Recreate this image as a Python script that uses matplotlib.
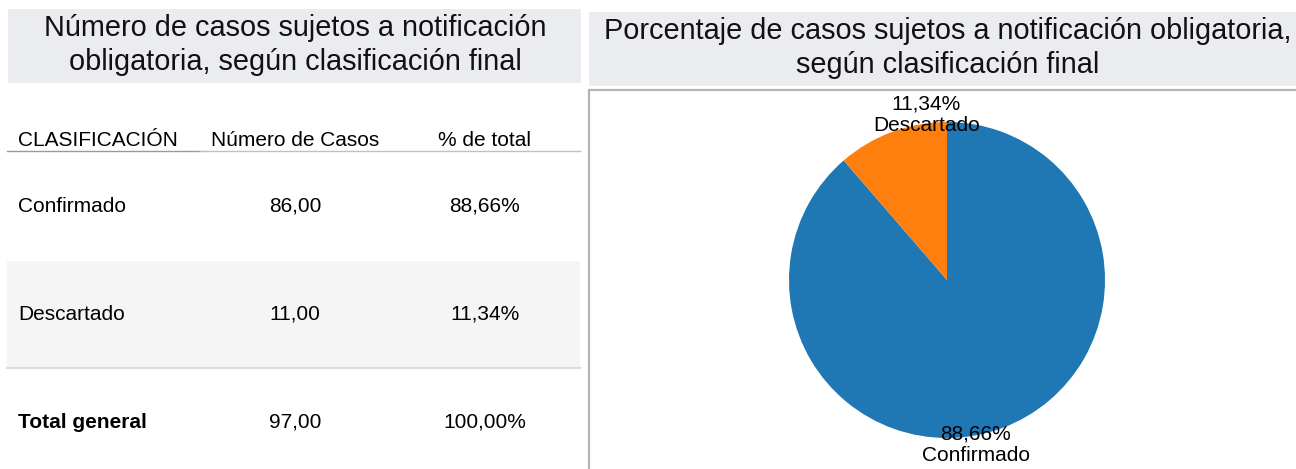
import matplotlib
matplotlib.use("Agg")
import matplotlib.pyplot as plt
from matplotlib.patches import Rectangle
import numpy as np

plt.rcParams['font.family'] = ['Liberation Sans', 'DejaVu Sans']

# data
categories = ["Confirmado", "Descartado"]
casos = [86, 11]
total_label = "Total general"
colors = ["#1f77b4", "#ff7f0e"]
headers = ["CLASIFICACIÓN", "Número de Casos", "% de total"]
title_left = "Número de casos sujetos a notificación\nobligatoria, según clasificación final"
title_right = "Porcentaje de casos sujetos a notificación obligatoria,\nsegún clasificación final"


def fmt(v, pct=False):
    s = f"{v:.2f}".replace(".", ",")
    return s + "%" if pct else s


total = sum(casos)
pcts = [100 * c / total for c in casos]

fig = plt.figure(figsize=(12.96, 4.69), dpi=100)

# pixel-coordinate layer for boxes and table
bg = fig.add_axes([0, 0, 1, 1])
bg.set_xlim(0, 1296)
bg.set_ylim(469, 0)
bg.axis("off")

title_bg = "#ebecf0"
bg.add_patch(Rectangle((8, 9), 573, 74, color=title_bg, lw=0))
bg.add_patch(Rectangle((589, 12), 707, 74, color=title_bg, lw=0))
bg.text(295, 45, title_left, ha="center", va="center", fontsize=20.8,
        linespacing=1.24, color="#111111")
bg.text(948, 48, title_right, ha="center", va="center", fontsize=20.8,
        linespacing=1.26, color="#111111")

# right panel frame
bg.plot([588.5, 588.5, 1296], [469, 90.5, 90.5], color="#b4b4b4", lw=1.6)

# table
fs = 15
col_x = [18, 295, 485]
bg.text(col_x[0], 140, headers[0], ha="left", va="center", fontsize=fs)
bg.text(col_x[1], 140, headers[1], ha="center", va="center", fontsize=fs)
bg.text(col_x[2], 140, headers[2], ha="center", va="center", fontsize=fs)
bg.plot([7, 200], [151.5, 151.5], color="#999999", lw=1.0)
bg.plot([200, 580], [151.5, 151.5], color="#c0c0c0", lw=1.0)

row_y = [206, 314]
bg.add_patch(Rectangle((7, 261), 573, 107, color="#f5f5f5", lw=0))
for cat, c, p, y in zip(categories, casos, pcts, row_y):
    bg.text(col_x[0], y, cat, ha="left", va="center", fontsize=fs)
    bg.text(col_x[1], y, fmt(c), ha="center", va="center", fontsize=fs)
    bg.text(col_x[2], y, fmt(p, True), ha="center", va="center", fontsize=fs)
bg.plot([7, 580], [368.5, 368.5], color="#dcdcdc", lw=1.5)

bg.text(col_x[0], 422, total_label, ha="left", va="center", fontsize=fs,
        fontweight="bold")
bg.text(col_x[1], 422, fmt(total), ha="center", va="center", fontsize=fs)
bg.text(col_x[2], 422, fmt(sum(pcts), True), ha="center", va="center",
        fontsize=fs)

# pie
cx, cy, R = 947, 280, 158
half = 1.1 * R
ax = fig.add_axes([(cx - half) / 1296, (469 - cy - half) / 469,
                   2 * half / 1296, 2 * half / 469])
wedges, _ = ax.pie(casos, colors=colors, startangle=90, counterclock=False,
                   wedgeprops=dict(linewidth=0))
ax.set_xlim(-1.1, 1.1)
ax.set_ylim(-1.1, 1.1)
ax.axis("off")

for w, cat, p in zip(wedges, categories, pcts):
    ang = np.deg2rad((w.theta1 + w.theta2) / 2)
    x = 0.45 * np.cos(ang) + 0.025
    y = 1.045 * np.sign(np.sin(ang))
    ax.text(x, y, fmt(p, True) + "\n" + cat, ha="center", va="center",
            fontsize=15, linespacing=1.15, clip_on=False)

fig.savefig("out.png", dpi=100)
